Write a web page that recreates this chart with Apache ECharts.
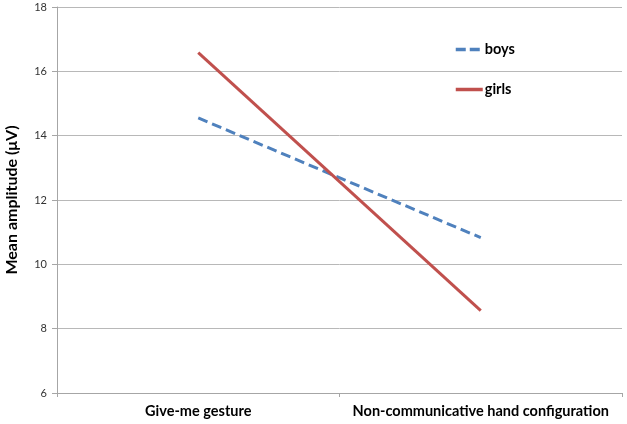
<!DOCTYPE html>
<html>
<head>
    <meta charset="utf-8">
    <title>Mean amplitude</title>
    <script type="text/javascript" src="https://cdn.jsdelivr.net/npm/echarts@6/dist/echarts.min.js"></script>
    <style>
        html, body { margin: 0; padding: 0; background: #fff; }
    </style>
</head>
<body>
    <div id="main" style="width: 627px;height:424px;"></div>
    <script type="text/javascript">
        // 数据
        var conditions = ['Give-me gesture', 'Non-communicative hand configuration'];
        var boys = [14.55, 10.83];
        var girls = [16.58, 8.56];
        var yTicks = [6, 8, 10, 12, 14, 16, 18];

        var font = 'Lato, "Open Sans", sans-serif';
        var chartDom = document.getElementById('main');
        var myChart = echarts.init(chartDom);

        var option = {
            animation: false,
            textStyle: { fontFamily: font },
            grid: { left: 57, right: 5, top: 7, bottom: 31, containLabel: false, outerBoundsMode: 'none' },
            legend: {
                orient: 'vertical',
                left: 449,
                top: 37,
                itemGap: 25,
                itemWidth: 27,
                itemHeight: 14,
                itemStyle: { opacity: 0 },
                textStyle: { fontFamily: font, fontWeight: 'bold', fontSize: 14.5, color: '#000', padding: [0, 0, 0, -3] },
                data: [
                    { name: 'boys', lineStyle: { width: 3.5, type: [10, 4] } },
                    { name: 'girls', lineStyle: { width: 3.5 } }
                ]
            },
            xAxis: {
                type: 'category',
                data: conditions,
                boundaryGap: true,
                axisLine: { lineStyle: { color: '#a6a6a6', width: 1 } },
                axisTick: { show: true, length: 4, lineStyle: { color: '#a6a6a6' } },
                axisLabel: { interval: 0, fontFamily: font, fontWeight: 'bold', fontSize: 14.5, color: '#000', margin: 11 },
                splitLine: { show: false }
            },
            yAxis: {
                type: 'value',
                min: yTicks[0],
                max: yTicks[yTicks.length - 1],
                interval: 2,
                name: 'Mean amplitude (\u03bcV)',
                nameLocation: 'middle',
                nameGap: 37,
                nameTextStyle: { fontFamily: font, fontWeight: 'bold', fontSize: 16, color: '#000' },
                axisLine: { show: true, lineStyle: { color: '#a6a6a6', width: 1 } },
                axisTick: { show: true, length: 5, lineStyle: { color: '#a6a6a6' } },
                axisLabel: { fontFamily: font, fontSize: 11, color: '#333', margin: 10 },
                splitLine: { show: true, lineStyle: { color: '#b8b8b8', width: 1 } }
            },
            series: [
                {
                    name: 'boys',
                    type: 'line',
                    data: boys,
                    symbol: 'none',
                    lineStyle: { color: '#4f81bd', width: 3, type: [10, 5] },
                    itemStyle: { color: '#4f81bd' }
                },
                {
                    name: 'girls',
                    type: 'line',
                    data: girls,
                    symbol: 'none',
                    lineStyle: { color: '#c0504d', width: 3 },
                    itemStyle: { color: '#c0504d' }
                }
            ]
        };
        myChart.setOption(option);
    </script>
</body>
</html>
